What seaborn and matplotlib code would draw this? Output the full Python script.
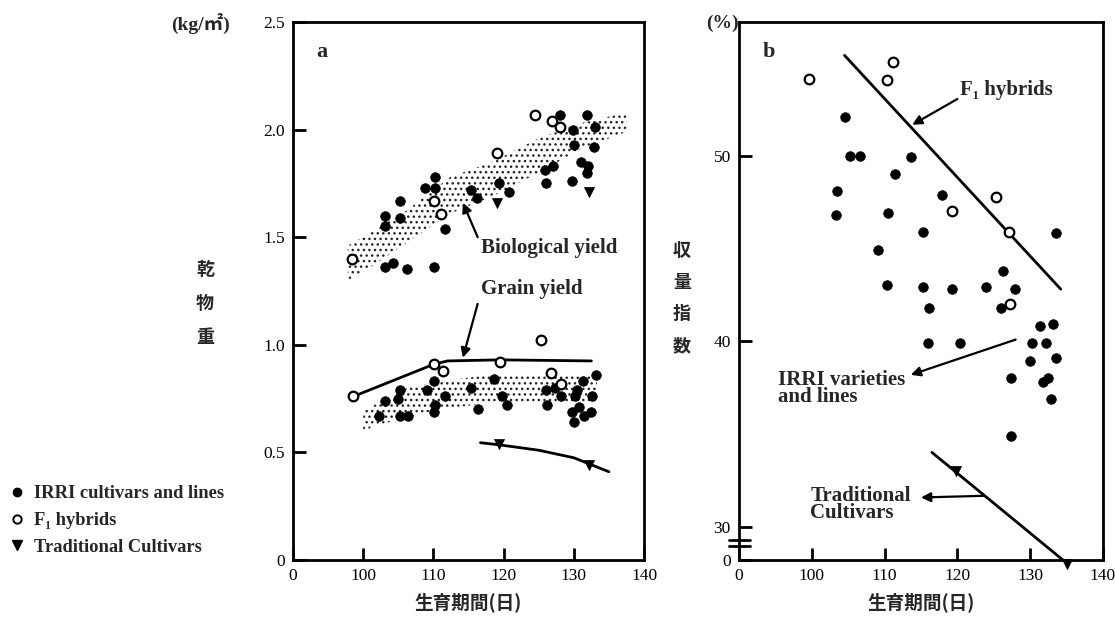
import numpy as np
import pandas as pd
import matplotlib
matplotlib.use("Agg")
import matplotlib.pyplot as plt
from matplotlib.lines import Line2D
import seaborn as sns

# ---------------- data ----------------
# Panel a: dry matter (kg/m2) vs growth duration (days)
bio_irri_x = [103.1, 103.1, 105.3, 105.3, 103.1, 104.2, 106.2, 108.8, 110.2, 110.2, 111.6, 110.1,
              115.4, 116.2, 119.3, 120.7, 128.0, 125.9, 127.0, 126.1, 129.9, 130.0, 129.8, 131.9,
              133.0, 132.9, 131.0, 132.0, 131.9]
bio_irri_y = [1.60, 1.55, 1.67, 1.59, 1.36, 1.38, 1.35, 1.73, 1.78, 1.73, 1.54, 1.36,
              1.72, 1.68, 1.75, 1.71, 2.07, 1.81, 1.83, 1.75, 2.00, 1.93, 1.76, 2.07,
              2.01, 1.92, 1.85, 1.83, 1.80]
bio_f1_x = [98.4, 110.1, 111.1, 119.1, 124.5, 126.9, 128.0]
bio_f1_y = [1.40, 1.67, 1.61, 1.89, 2.07, 2.04, 2.01]
bio_trad_x = [119.1, 132.1]
bio_trad_y = [1.66, 1.71]

grain_irri_x = [102.3, 103.1, 104.9, 105.2, 105.3, 106.4, 109.1, 110.1, 110.2, 110.1, 111.6,
                115.4, 116.4, 118.7, 119.7, 120.5, 126.1, 126.2, 127.3, 128.2, 130.1, 130.4,
                129.8, 130.7, 131.3, 130.0, 131.4, 132.5, 132.6, 133.1]
grain_irri_y = [0.67, 0.74, 0.75, 0.79, 0.67, 0.67, 0.79, 0.83, 0.72, 0.69, 0.76,
                0.80, 0.70, 0.84, 0.76, 0.72, 0.79, 0.72, 0.80, 0.76, 0.76, 0.79,
                0.69, 0.71, 0.83, 0.64, 0.67, 0.69, 0.76, 0.86]
grain_f1_x = [98.6, 110.1, 111.4, 119.5, 125.3, 126.7, 128.2]
grain_f1_y = [0.76, 0.91, 0.88, 0.92, 1.02, 0.87, 0.82]
grain_trad_x = [119.4, 132.2]
grain_trad_y = [0.54, 0.44]

# fitted curves, panel a
grain_f1_fit_x = [98.6, 110.1, 112.0, 119.5, 132.5]
grain_f1_fit_y = [0.76, 0.91, 0.925, 0.93, 0.925]
grain_trad_fit_x = [116.7, 119.4, 125.0, 130.0, 135.0]
grain_trad_fit_y = [0.545, 0.535, 0.51, 0.475, 0.41]

# shaded ranges of the IRRI lines, panel a
bio_band_x = [97.8, 101.0, 106.0, 112.4, 118.4, 125.0, 131.0, 137.5]
bio_band_hi = [1.46, 1.52, 1.62, 1.78, 1.85, 1.96, 2.03, 2.08]
bio_band_lo = [1.30, 1.36, 1.47, 1.61, 1.69, 1.80, 1.91, 1.99]
grain_band_x = [100.0, 101.5, 106.3, 110.9, 118.0, 130.0, 133.3]
grain_band_hi = [0.69, 0.72, 0.80, 0.83, 0.86, 0.86, 0.86]
grain_band_lo = [0.60, 0.62, 0.665, 0.70, 0.73, 0.73, 0.73]

# Panel b: harvest index (%) vs growth duration (days)
hi_irri_x = [104.6, 105.2, 106.6, 103.4, 103.3, 113.6, 111.4, 110.4, 117.9, 115.3, 109.1,
             133.6, 126.2, 110.3, 115.3, 119.3, 123.9, 127.9, 116.1, 126.0, 116.0, 120.4,
             131.3, 133.1, 130.2, 132.2, 130.0, 133.6, 127.4, 131.8, 132.5, 132.9, 127.4]
hi_irri_y = [52.1, 50.0, 50.0, 48.1, 46.8, 49.9, 49.0, 46.9, 47.9, 45.9, 44.9,
             45.8, 43.8, 43.0, 42.9, 42.8, 42.9, 42.8, 41.8, 41.8, 39.9, 39.9,
             40.8, 40.9, 39.9, 39.9, 38.9, 39.1, 38.0, 37.8, 38.0, 36.9, 34.9]
hi_f1_x = [99.6, 110.3, 111.2, 125.3, 119.3, 127.1, 127.2]
hi_f1_y = [54.15, 54.1, 55.05, 47.75, 47.0, 45.9, 42.0]
hi_trad_x = [119.8, 135.1]
hi_trad_y = [33.0, 28.0]

hi_f1_fit_x = [104.5, 134.2]
hi_f1_fit_y = [55.4, 42.8]
hi_trad_fit_x = [116.5, 134.5]
hi_trad_fit_y = [34.0, 28.2]

x_ticks = [90, 100, 110, 120, 130, 140]
x_ticklabels = ["0", "100", "110", "120", "130", "140"]
a_yticks = [0, 0.5, 1.0, 1.5, 2.0, 2.5]
a_yticklabels = ["0", "0.5", "1.0", "1.5", "2.0", "2.5"]
b_ybottom = 28.2
b_yticks = [b_ybottom, 30, 40, 50]
b_yticklabels = ["0", "30", "40", "50"]

# ---------------- style ----------------
sns.set_theme(style="white")
plt.rcParams["font.family"] = ["Liberation Serif", "Noto Sans CJK JP", "DejaVu Serif"]
plt.rcParams["hatch.linewidth"] = 1.0
plt.rcParams["axes.linewidth"] = 2.0

CJK = ["Noto Sans CJK JP", "DejaVu Sans"]
SERIF = ["Liberation Serif", "DejaVu Serif"]
MS = 48
NOTE = 15

fig = plt.figure(figsize=(11.15, 6.2), dpi=100)
ax_a = fig.add_axes([0.2628, 0.0968, 0.3148, 0.8677])
ax_b = fig.add_axes([0.6628, 0.0968, 0.3264, 0.8677])


def style_axes(ax):
    for s in ax.spines.values():
        s.set_color("black")
        s.set_linewidth(2.0)
    ax.tick_params(axis="both", direction="in", length=9, width=2.0, colors="black",
                   labelsize=12.5, pad=6, left=True, bottom=True)
    ax.set_xlim(90, 140)
    ax.set_xticks(x_ticks)
    ax.set_xticklabels(x_ticklabels, fontfamily=SERIF)
    ax.set_xlabel("生育期間(日)", fontfamily=CJK, fontweight="bold", fontsize=13.4, labelpad=6)
    ax.set_ylabel("")


def scatter_groups(ax, irri, f1, trad):
    sns.scatterplot(x=irri[0], y=irri[1], ax=ax, color="black", marker="o", s=MS,
                    edgecolor="black", linewidth=0.5, zorder=4, legend=False)
    sns.scatterplot(x=f1[0], y=f1[1], ax=ax, color="white", marker="o", s=MS,
                    edgecolor="black", linewidth=1.6, zorder=5, legend=False)
    sns.scatterplot(x=trad[0], y=trad[1], ax=ax, color="black", marker="v", s=MS * 1.1,
                    edgecolor="black", linewidth=0.5, zorder=5, legend=False, clip_on=False)


# ---------------- panel a ----------------
ax = ax_a
ax.fill_between(bio_band_x, bio_band_lo, bio_band_hi, facecolor="none", edgecolor="#222222",
                hatch="...", linewidth=0, zorder=1)
ax.fill_between(grain_band_x, grain_band_lo, grain_band_hi, facecolor="none", edgecolor="#222222",
                hatch="...", linewidth=0, zorder=1)
sns.lineplot(x=grain_f1_fit_x, y=grain_f1_fit_y, ax=ax, color="black", linewidth=2.0,
             sort=False, estimator=None, zorder=3)
sns.lineplot(x=grain_trad_fit_x, y=grain_trad_fit_y, ax=ax, color="black", linewidth=2.0,
             sort=False, estimator=None, zorder=3)
scatter_groups(ax, (bio_irri_x, bio_irri_y), (bio_f1_x, bio_f1_y), (bio_trad_x, bio_trad_y))
scatter_groups(ax, (grain_irri_x, grain_irri_y), (grain_f1_x, grain_f1_y), (grain_trad_x, grain_trad_y))
style_axes(ax)
ax.set_ylim(0, 2.5)
ax.set_yticks(a_yticks)
ax.set_yticklabels(a_yticklabels, fontfamily=SERIF)
ax.text(0.066, 0.944, "a", transform=ax.transAxes, fontsize=16, fontweight="bold",
        fontfamily=SERIF, va="center", ha="left")

arrow = dict(arrowstyle="-|>", color="black", lw=1.6, mutation_scale=14, shrinkA=0, shrinkB=0)
ax.annotate("", xy=(114.2, 1.66), xytext=(116.3, 1.50), arrowprops=arrow)
ax.text(116.8, 1.45, "Biological yield", fontsize=NOTE, fontweight="bold", fontfamily=SERIF,
        va="center", ha="left")
ax.annotate("", xy=(114.2, 0.94), xytext=(116.3, 1.19), arrowprops=arrow)
ax.text(116.8, 1.26, "Grain yield", fontsize=NOTE, fontweight="bold", fontfamily=SERIF,
        va="center", ha="left")

# ---------------- panel b ----------------
ax = ax_b
sns.lineplot(x=hi_f1_fit_x, y=hi_f1_fit_y, ax=ax, color="black", linewidth=2.0,
             sort=False, estimator=None, zorder=3)
sns.lineplot(x=hi_trad_fit_x, y=hi_trad_fit_y, ax=ax, color="black", linewidth=2.0,
             sort=False, estimator=None, zorder=3)
scatter_groups(ax, (hi_irri_x, hi_irri_y), (hi_f1_x, hi_f1_y), (hi_trad_x, hi_trad_y))
style_axes(ax)
ax.set_ylim(b_ybottom, 57.2)
ax.set_yticks(b_yticks)
ax.set_yticklabels(b_yticklabels, fontfamily=SERIF)
ax.text(0.066, 0.944, "b", transform=ax.transAxes, fontsize=16, fontweight="bold",
        fontfamily=SERIF, va="center", ha="left")
# axis-break marks on the left spine
for yb in (0.026, 0.037):
    ax.plot([-0.028, 0.03], [yb, yb], transform=ax.transAxes, color="black", lw=2.0,
            clip_on=False, zorder=6)

ax.annotate("", xy=(113.8, 51.66), xytext=(120.0, 53.05), arrowprops=arrow)
ax.text(120.3, 53.55, "F\u2081 hybrids", fontsize=NOTE, fontweight="bold", fontfamily=SERIF,
        va="center", ha="left")
ax.annotate("", xy=(113.6, 38.18), xytext=(128.0, 40.08), arrowprops=arrow)
ax.text(95.4, 37.45, "IRRI varieties\nand lines", fontsize=NOTE, fontweight="bold",
        fontfamily=SERIF, va="center", ha="left", linespacing=0.82)
ax.annotate("", xy=(115.0, 31.57), xytext=(123.7, 31.66), arrowprops=arrow)
ax.text(99.8, 31.2, "Traditional\nCultivars", fontsize=NOTE, fontweight="bold",
        fontfamily=SERIF, va="center", ha="left", linespacing=0.82)

# ---------------- figure-level labels ----------------
fig.text(201 / 1115, 1 - 23 / 620, "(kg/㎡)", fontsize=14, fontweight="bold",
         fontfamily=["Liberation Serif", "Noto Sans CJK JP"], ha="center", va="center")
fig.text(722 / 1115, 1 - 23 / 620, "(%)", fontsize=14, fontweight="bold",
         fontfamily=["Liberation Serif", "Noto Sans CJK JP"], ha="center", va="center")
fig.text(205 / 1115, 1 - 304 / 620, "乾\n物\n重", fontsize=13, fontweight="bold",
         fontfamily=CJK, ha="center", va="center", linespacing=2.0)
fig.text(682 / 1115, 1 - 298 / 620, "収\n量\n指\n数", fontsize=13, fontweight="bold",
         fontfamily=CJK, ha="center", va="center", linespacing=1.85)

handles = [
    Line2D([], [], marker="o", color="black", linestyle="none", markersize=6),
    Line2D([], [], marker="o", markerfacecolor="white", markeredgecolor="black",
           markeredgewidth=1.4, linestyle="none", markersize=6),
    Line2D([], [], marker="v", color="black", linestyle="none", markersize=6.5),
]
labels = ["IRRI cultivars and lines", "F\u2081 hybrids", "Traditional Cultivars"]
fig.legend(handles, labels, loc="upper left", bbox_to_anchor=(0.0, 0.229), frameon=False,
           prop={"family": SERIF, "weight": "bold", "size": 13.3}, handletextpad=0.45,
           handlelength=1.0, labelspacing=0.52, borderaxespad=0.0)

fig.savefig("out.png", dpi=100)
